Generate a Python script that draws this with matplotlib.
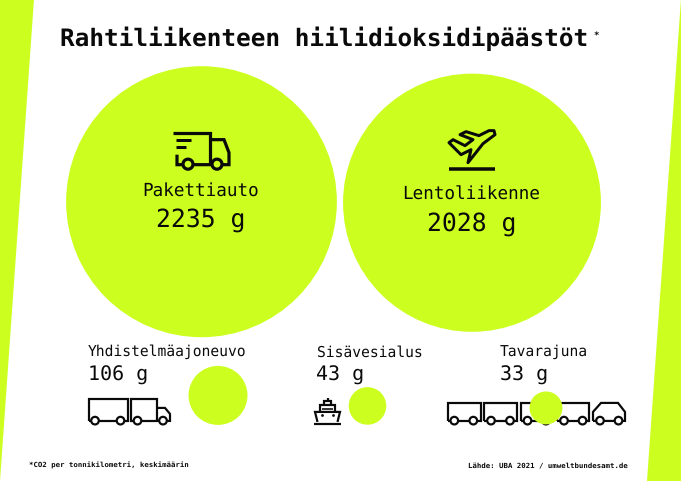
import numpy as np
import matplotlib
matplotlib.use("Agg")
import matplotlib.pyplot as plt
from matplotlib.patches import Circle, Polygon

plt.rcParams["text.hinting"] = "no_hinting"
plt.rcParams["text.hinting_factor"] = 8

# --- data ---
categories = ["Pakettiauto", "Lentoliikenne", "Yhdistelmäajoneuvo", "Sisävesialus", "Tavarajuna"]
values_g = [2235, 2028, 106, 43, 33]
title = "Rahtiliikenteen hiilidioksidipäästöt"
footnote = "*CO2 per tonnikilometri, keskimäärin"
source = "Lähde: UBA 2021 / umweltbundesamt.de"

# --- layout (pixels) ---
AREA_PER_G = 8.2
centers = [(201.5, 202), (472, 203), (218, 395.5), (367.5, 406), (546, 408)]
GREEN = "#CCFF1F"
INK = "#0A0A0A"
MONO = "DejaVu Sans Mono"

fig = plt.figure(figsize=(6.81, 4.815), dpi=100, facecolor="white")
ax = fig.add_axes([0, 0, 1, 1])
ax.set_xlim(0, 681)
ax.set_ylim(481, 0)
ax.axis("off")

# side wedges
ax.add_patch(Polygon([(0, 0), (34, 0), (0, 481)], closed=True, fc=GREEN, ec="none", zorder=1))
ax.add_patch(Polygon([(681, 0), (681, 481), (647, 481)], closed=True, fc=GREEN, ec="none", zorder=1))

# bubbles: area proportional to value
for (cx, cy), v in zip(centers, values_g):
    ax.add_patch(Circle((cx, cy), np.sqrt(AREA_PER_G * v), fc=GREEN, ec="none", zorder=4))


def line(pts, lw=2.0, z=3, **kw):
    xs, ys = zip(*pts)
    ax.plot(xs, ys, color=INK, lw=lw * 0.72, solid_joinstyle="miter", solid_capstyle="butt", zorder=z, **kw)


def wheel(x, y, r, lw=2.0, z=3, fc="white"):
    ax.add_patch(Circle((x, y), r, fc=fc, ec=INK, lw=lw * 0.72, zorder=z + 0.5))


def wagon(x0, x1, top=403.0, bottom=421.0, lw=2.2):
    line([(x0, bottom), (x0, top), (x1, top), (x1, bottom), (x0, bottom)], lw=lw)


# --- big truck icon ---
Z = 6
line([(173, 133), (210, 133), (210, 165)], lw=3.2, z=Z)
line([(210, 140), (224, 140), (229, 153), (229, 165), (177, 165), (177, 155)], lw=3.2, z=Z)
line([(176, 140), (191, 140)], lw=3, z=Z)
line([(176, 147), (186, 147)], lw=3, z=Z)
wheel(188, 164.5, 5, lw=3.2, z=Z, fc=GREEN)
wheel(217, 164.5, 5, lw=3.2, z=Z, fc=GREEN)

# --- plane icon ---
plane = [(494, 131), (495, 135), (483, 144), (468, 163), (471, 150), (461, 155), (449, 143),
         (453, 140), (465, 146), (473, 140), (460, 135), (466, 132), (479, 136), (489, 131)]
ax.add_patch(Polygon(plane, closed=True, fc="none", ec=INK, lw=3.0 * 0.72, joinstyle="round", zorder=Z))
line([(449, 169), (495, 169)], lw=3.5, z=Z)

# --- combination vehicle ---
wagon(88.5, 127.5, top=399.5, bottom=421)
line([(157, 421), (131, 421), (131, 399.5), (157, 399.5), (157, 421)], lw=2.2)
line([(157, 408), (165, 408), (170, 414), (170, 421), (157, 421)], lw=2.2)
for wx in (95, 120.5, 137.5, 163):
    wheel(wx, 420.7, 3.8, lw=2.2)

# --- ship ---
line([(314, 424.5), (341, 424.5)], lw=2.2)
line([(317.5, 422), (315, 412), (340, 412), (337.5, 422)], lw=2.2)
line([(320, 412), (320, 405), (335, 405), (335, 412)], lw=2.2)
line([(324, 405), (324, 401), (331, 401), (331, 405)], lw=2.2)
line([(327.5, 401), (327.5, 398)], lw=2.2)
line([(322, 409), (333, 409)], lw=1.6)
ax.scatter([322, 333], [415.5, 415.5], s=4, color=INK, zorder=3, linewidths=0)

# --- train ---
for x0, x1 in [(447.7, 481), (484.3, 516.7), (521, 553), (556.7, 589)]:
    wagon(x0, x1)
line([(593, 421), (593, 412), (601, 403), (618, 403), (625, 412), (625, 421), (593, 421)], lw=2.2)
for wx in (454.3, 473.3, 491, 510, 527.5, 546, 564, 582.5, 600, 618.5):
    wheel(wx, 420.7, 3.8, lw=2.2)

# --- text ---
ax.text(60, 45.5, title, family=MONO, fontweight="bold", fontsize=17.6, color=INK, va="baseline", ha="left", zorder=7)
ax.text(593.5, 38, "*", family=MONO, fontweight="bold", fontsize=6.5, color=INK, va="baseline", ha="left", zorder=7)

big_text = [(200.5, 196, 226), (471.5, 200, 230)]
for (x, y1, y2), c, v in zip(big_text, categories[:2], values_g[:2]):
    ax.text(x, y1, c, family=MONO, fontsize=12.7, color=INK, ha="center", va="baseline", zorder=7)
    ax.text(x, y2, f"{v} g", family=MONO, fontsize=17.8, color=INK, ha="center", va="baseline", zorder=7)

small_x = [88, 316.5, 500]
for x, c, v in zip(small_x, categories[2:], values_g[2:]):
    ax.text(x, 356, c, family=MONO, fontsize=10.55, color=INK, ha="left", va="baseline", zorder=7)
    ax.text(x, 380.5, f"{v} g", family=MONO, fontsize=14.4, color=INK, ha="left", va="baseline", zorder=7)

ax.text(29, 467.5, footnote, family=MONO, fontweight="bold", fontsize=5.33, color=INK, ha="left", va="baseline", zorder=7)
ax.text(628, 467.5, source, family=MONO, fontweight="bold", fontsize=5.33, color=INK, ha="right", va="baseline", zorder=7)

fig.savefig("out.png", dpi=100)
